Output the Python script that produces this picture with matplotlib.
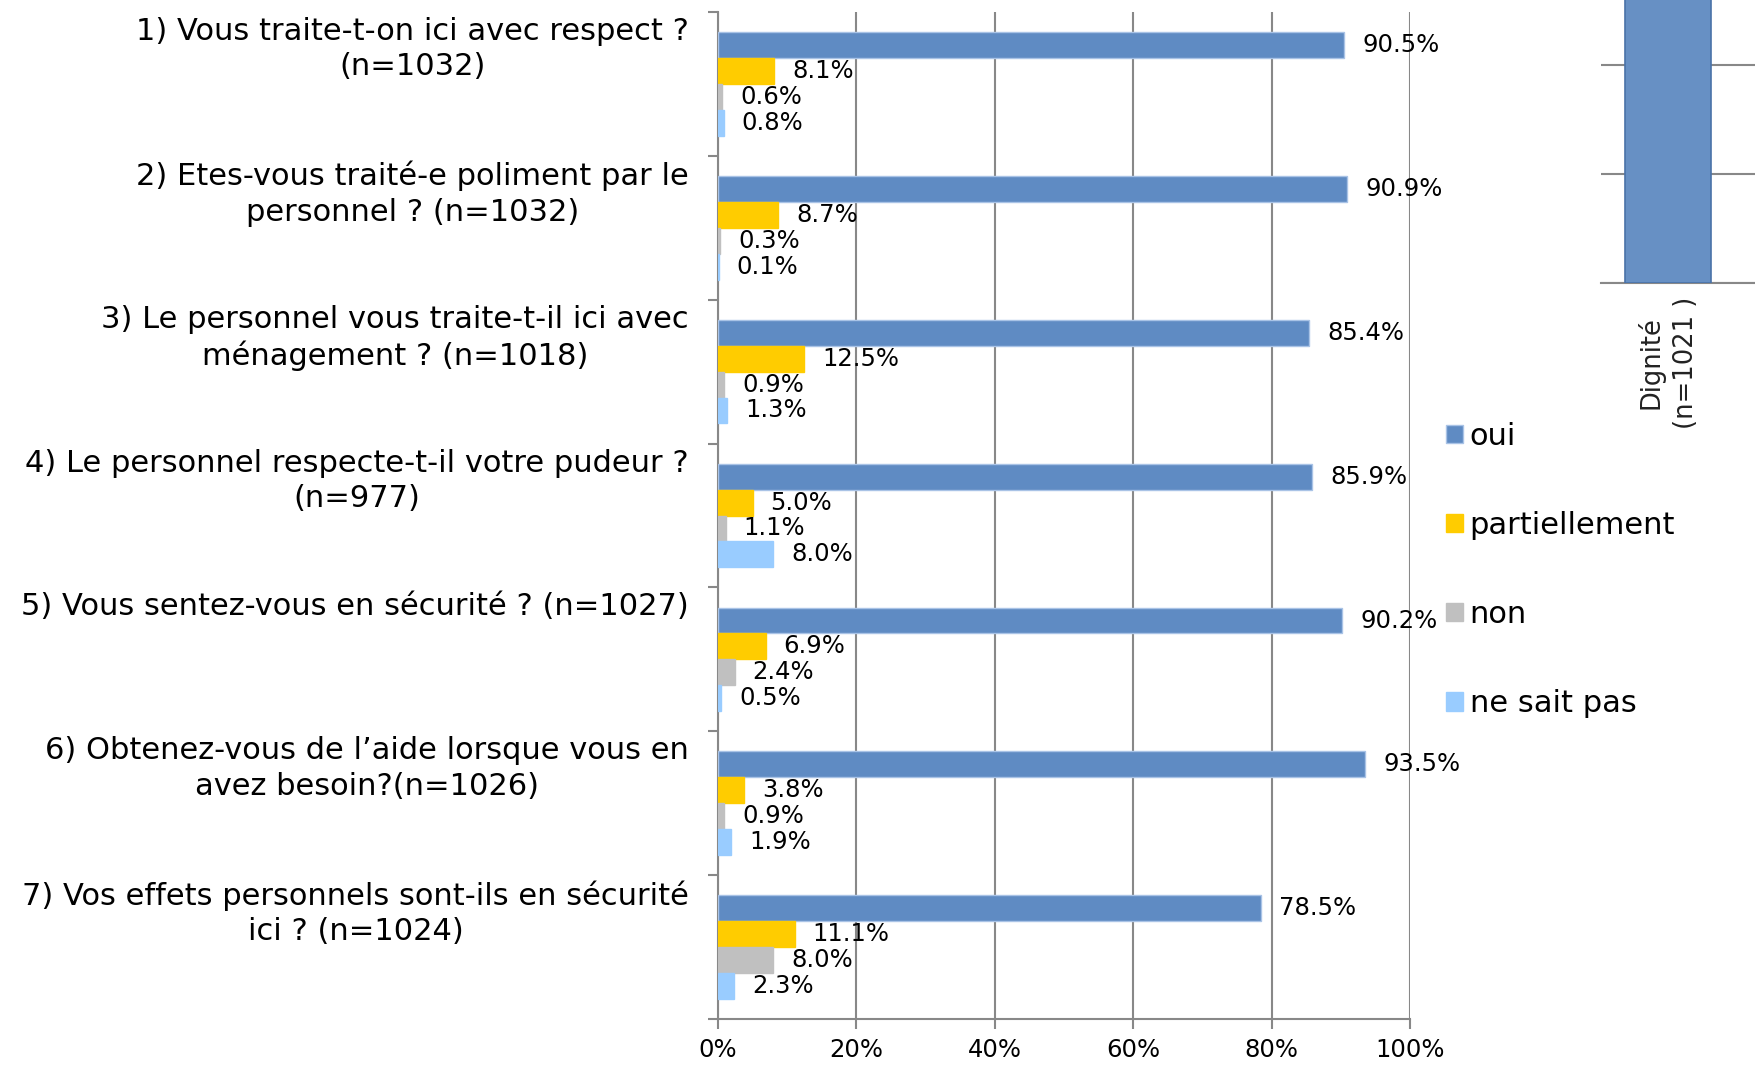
import numpy as np
import matplotlib.pyplot as plt
from matplotlib.transforms import blended_transform_factory

questions = [
    "1) Vous traite-t-on ici avec respect ?\n(n=1032)",
    "2) Etes-vous traité-e poliment par le\npersonnel ? (n=1032)",
    "3) Le personnel vous traite-t-il ici avec\nménagement ? (n=1018)",
    "4) Le personnel respecte-t-il votre pudeur ?\n(n=977)",
    "5) Vous sentez-vous en sécurité ? (n=1027)",
    "6) Obtenez-vous de l\u2019aide lorsque vous en\navez besoin?(n=1026)",
    "7) Vos effets personnels sont-ils en sécurité\nici ? (n=1024)",
]
series_names = ["oui", "partiellement", "non", "ne sait pas"]
oui = [90.5, 90.9, 85.4, 85.9, 90.2, 93.5, 78.5]
partiellement = [8.1, 8.7, 12.5, 5.0, 6.9, 3.8, 11.1]
non = [0.6, 0.3, 0.9, 1.1, 2.4, 0.9, 8.0]
ne_sait_pas = [0.8, 0.1, 1.3, 8.0, 0.5, 1.9, 2.3]
colors = ["#5f8bc3", "#ffcc00", "#c0c0c0", "#99ccff"]
edges = ["#a9c3e6", "#ffcc00", "#c0c0c0", "#99ccff"]
xticks = [0, 20, 40, 60, 80, 100]

# cropped neighbour chart in the top right corner
dignite_label = "Dignité\n(n=1021 )"
dignite_value = 88.1

plt.rcParams['font.family'] = ['DejaVu Sans']
fig = plt.figure(figsize=(17.56, 10.65), dpi=100)
ax = fig.add_axes([718 / 1756, 1 - 1019 / 1065, 692 / 1756, 1007 / 1065])

y = np.arange(len(questions))
h = 0.18
offsets = [-1.5 * h, -0.5 * h, 0.5 * h, 1.5 * h]
handles = []
for vals, name, col, ec, off in zip([oui, partiellement, non, ne_sait_pas],
                                     series_names, colors, edges, offsets):
    bars = ax.barh(y + off, vals, height=h, color=col, edgecolor=ec,
                   linewidth=1, label=name, zorder=3)
    handles.append(bars)
    for yy, v in zip(y + off, vals):
        ax.annotate(f"{v:.1f}%", (v, yy), xytext=(18, 0),
                    textcoords='offset pixels', va='center', ha='left',
                    fontsize=17.5, zorder=4)

ax.set_xlim(0, 100)
ax.set_ylim(len(questions) - 0.5, -0.5)
ax.set_xticks(xticks)
ax.set_xticklabels([f"{t}%" for t in xticks], fontsize=17.5)
ax.set_yticks(np.arange(len(questions) + 1) - 0.5)
ax.set_yticklabels([])
ax.tick_params(axis='both', direction='out', length=7, width=1.5,
               color='#888888')
ax.tick_params(axis='x', pad=7)
ax.grid(axis='x', color='#888888', linewidth=1.5, zorder=0)
for s in ['top', 'right']:
    ax.spines[s].set_visible(False)
for s in ['left', 'bottom']:
    ax.spines[s].set_color('#888888')
    ax.spines[s].set_linewidth(1.5)

trans = blended_transform_factory(ax.transAxes, ax.transData)
for i, q in enumerate(questions):
    ax.text(-0.042, i - 0.5 + 0.035, q, transform=trans, ha='right', va='top',
            multialignment='center', fontsize=22, linespacing=1.28)

fig.legend(handles=handles, labels=series_names, loc='center left',
           bbox_to_anchor=(1446 / 1756, 1 - 570 / 1065), frameon=False,
           fontsize=22, handlelength=0.55, handleheight=0.55,
           handletextpad=0.22, labelspacing=1.97, borderpad=0,
           borderaxespad=0)

# inset: piece of the neighbouring chart
ax2 = fig.add_axes([1601 / 1756, 1 - 283 / 1065, 155 / 1756, 283 / 1065])
ax2.bar([0], [dignite_value], width=0.64, color='#6790c4',
        edgecolor='#4a72a8', linewidth=1.2, zorder=3)
ax2.set_xlim(-0.5, -0.5 + 155 / 134)
ax2.set_ylim(0, 51.9)
ax2.set_yticks([0, 20, 40])
ax2.set_yticklabels([])
ax2.tick_params(axis='y', length=0)
ax2.grid(axis='y', color='#888888', linewidth=1.5, zorder=0)
ax2.set_xticks([0])
ax2.set_xticklabels([dignite_label], rotation=90, fontsize=18.5,
                    multialignment='center', color='#222222',
                    linespacing=1.4)
ax2.tick_params(axis='x', length=0, pad=10)
for s in ['top', 'right', 'left']:
    ax2.spines[s].set_visible(False)
ax2.spines['bottom'].set_color('#888888')
ax2.spines['bottom'].set_linewidth(1.5)

fig.savefig('out.png', dpi=100)
